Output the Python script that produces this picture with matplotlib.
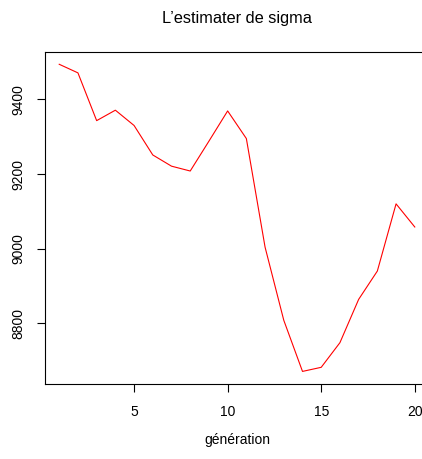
import matplotlib.pyplot as plt

plt.rcParams['font.family'] = ['Liberation Sans', 'DejaVu Sans']

generation = list(range(1, 21))
sigma = [9494, 9471, 9343, 9371, 9330, 9251, 9221, 9208, 9288, 9369,
         9295, 9004, 8808, 8671, 8682, 8748, 8864, 8940, 9120, 9058]
xticks = [5, 10, 15, 20]
yticks = [8800, 9000, 9200, 9400]

W, H = 422, 459
fig = plt.figure(figsize=(W / 100, H / 100), dpi=100)
# the plot box runs a bit past the right edge of the image (cropped like the original)
ax = fig.add_axes([45 / W, 1 - 383.7 / H, (429 - 45) / W, (383.7 - 52) / H])

ax.plot(generation, sigma, color='red', lw=0.8)

span = max(generation) - min(generation)
ax.set_xlim(min(generation) - 0.04 * span, max(generation) + 0.04 * span)
yspan = max(sigma) - min(sigma)
ax.set_ylim(min(sigma) - 0.04 * yspan, max(sigma) + 0.04 * yspan)

ax.set_xticks(xticks)
ax.set_yticks(yticks)
ax.set_yticklabels([str(v) for v in yticks], rotation=90, va='center')
ax.tick_params(length=6, width=0.8, labelsize=10, direction='out')
ax.tick_params(axis='x', pad=9)
ax.tick_params(axis='y', pad=8)
for s in ax.spines.values():
    s.set_linewidth(0.8)

fig.text(237 / W, 1 - 18 / H, "L\u2019estimater de sigma", ha='center', va='center', fontsize=11.8)
fig.text(237 / W, 1 - 440 / H, "génération", ha='center', va='center', fontsize=10)

fig.savefig('out.png', dpi=100)
